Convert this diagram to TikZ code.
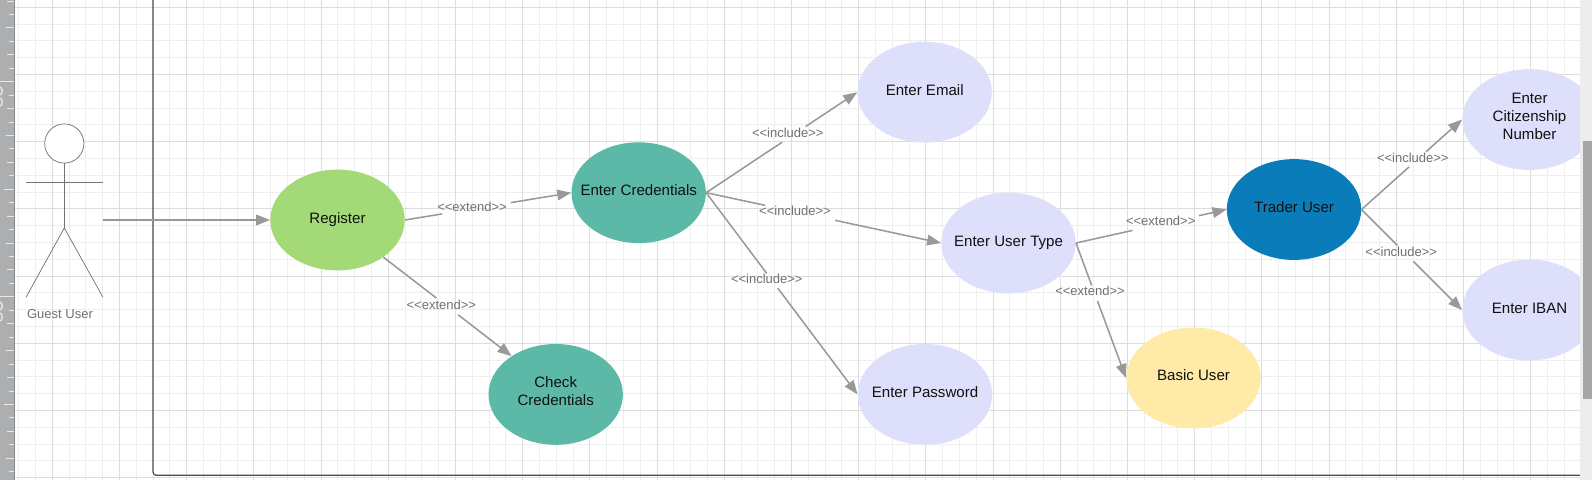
\documentclass[tikz,border=0pt]{standalone}
\usepackage{fontspec}
\setmainfont{Liberation Sans}
\usetikzlibrary{shapes.geometric,arrows.meta,calc}
\definecolor{gridminor}{HTML}{EEEEEE}
\definecolor{gridmajor}{HTML}{DDDDDD}
\definecolor{rulerbg}{HTML}{ADAEB0}
\definecolor{rulerline}{HTML}{87888A}
\definecolor{rulertick}{HTML}{E9E9E9}
\definecolor{conn}{HTML}{999999}
\definecolor{lav}{HTML}{DEDFFB}
\definecolor{teal}{HTML}{5CB9A8}
\definecolor{lime}{HTML}{A3D977}
\definecolor{butter}{HTML}{FFEAA7}
\definecolor{ocean}{HTML}{0B7CBA}
\definecolor{labelgray}{HTML}{707070}
\definecolor{textdark}{HTML}{111111}
\newcommand{\ucase}[2][3.5pt]{\makebox[0pt]{\raisebox{#1}{#2}}}
\newcommand{\ucasetwo}[1]{\makebox[0pt]{\raisebox{-1.3pt}[0pt][0pt]{\begin{tabular}{@{}c@{}}#1\end{tabular}}}}
\tikzset{
  usecase/.style={ellipse,minimum width=100.8pt,minimum height=75.6pt,inner sep=0pt,draw=none,
    font=\fontsize{11.3}{13.5}\selectfont,text=textdark},
  link/.style={draw=conn,line width=1.15pt},
  linkend/.style={link,-{Triangle[length=10.5pt,width=8pt]}},
  tag/.style={font=\fontsize{9.75}{11}\selectfont,text=labelgray,inner sep=0pt},
  stick/.style={draw=black!55,line width=0.55pt},
}
\begin{document}
\begin{tikzpicture}[x=0.75pt,y=-0.75pt]
\useasboundingbox (0,0) rectangle (1592,480);
\fill[white] (0,0) rectangle (1592,480);
% grid
\begin{scope}
\clip (15,0) rectangle (1580,480);
\foreach \k in {0,...,93}{\pgfmathsetmacro\gx{floor(18.7+16.8*\k)+0.5}\draw[gridminor,line width=0.9pt] (\gx,0) -- (\gx,480);}
\foreach \k in {0,...,29}{\pgfmathsetmacro\gy{floor(-9.5+16.8*\k)+0.5}\draw[gridminor,line width=0.9pt] (0,\gy) -- (1592,\gy);}
\foreach \k in {0,...,22}{\pgfmathsetmacro\gx{floor(52.3+67.2*\k)+0.5}\draw[gridmajor,line width=0.9pt] (\gx,0) -- (\gx,480);}
\foreach \k in {0,...,7}{\pgfmathsetmacro\gy{floor(7.3+67.2*\k)+0.5}\draw[gridmajor,line width=0.9pt] (0,\gy) -- (1592,\gy);}
\end{scope}
% ruler
\fill[rulerbg] (0,0) rectangle (14.3,480);
\fill[rulerline] (14.3,0) rectangle (15.3,480);
\foreach \k in {-6,...,29}{
  \pgfmathsetmacro\ty{floor(81.7+13.45*\k)+0.5}
  \pgfmathtruncatemacro\m{mod(\k+16,16)}
  \pgfmathtruncatemacro\n{mod(\k+16,8)}
  \pgfmathtruncatemacro\q{mod(\k+16,4)}
  \pgfmathtruncatemacro\o{mod(\k+16,2)}
  \pgfmathsetmacro\tx{\m==0?0:(\n==0?4:(\q==0?5.7:(\o==0?7.3:9)))}
  \draw[rulertick,line width=0.85pt] (\tx,\ty) -- (14,\ty);
}
\foreach \dy in {87,302}{
  \draw[rulertick,line width=1pt] (0,\dy) .. controls (3,\dy+1) and (3,\dy+7) .. (0,\dy+8);
  \draw[rulertick,line width=1pt] (0,\dy+11) .. controls (3,\dy+11) and (3,\dy+19) .. (0,\dy+19);
}
% system boundary
\draw[draw=black!70,line width=0.9pt,rounded corners=2.5pt] (153,0) -- (153,475.3) -- (1580,475.3);
% use cases
\node[usecase,fill=lime]   (reg) at (337.5,220)   {\ucase[3pt]{Register}};
\node[usecase,fill=teal]   (ec)  at (638.7,192.7) {\ucase[3.7pt]{Enter Credentials}};
\node[usecase,fill=teal]   (chk) at (555.7,394.4) {\ucasetwo{Check\\Credentials}};
\node[usecase,fill=lav]    (em)  at (924.7,92.2)  {\ucase[3.4pt]{Enter Email}};
\node[usecase,fill=lav]    (ut)  at (1008.5,243)  {\ucase[2.4pt]{Enter User Type}};
\node[usecase,fill=lav]    (pw)  at (925,394.4)   {\ucase[3pt]{Enter Password}};
\node[usecase,fill=butter] (bu)  at (1193.5,378)  {\ucase[3.8pt]{Basic User}};
\node[usecase,fill=ocean]  (tr)  at (1294,209.5)  {\ucase[3.5pt]{Trader User}};
\node[usecase,fill=lav]    (cz)  at (1529.5,119.5){\ucasetwo{Enter\\Citizenship\\Number}};
\node[usecase,fill=lav]    (ib)  at (1529.5,310)  {\ucase[2pt]{Enter IBAN}};
% actor
\node[circle,draw=black!55,line width=0.55pt,fill=white,minimum size=29.4pt,inner sep=0pt] (head) at (64.3,143.5) {};
\coordinate (hip) at (64.3,228);
\coordinate (handl) at (26,182.3);
\coordinate (handr) at (103,182.3);
\coordinate (footl) at (26,297.3);
\coordinate (footr) at (103,297.3);
\coordinate (grip) at (103,220);
\draw[stick] (head.south) -- (hip);
\draw[stick] (handl) -- (handr);
\draw[stick] (footl) -- (hip) -- (footr);
\node[font=\fontsize{9.75}{11}\selectfont,text=labelgray,inner sep=0pt] (guest) at (60,314) {Guest User};
% connectors
\draw[linkend] (grip) -- (reg.west);
\newcommand{\gapped}[4]{%
  \draw[link] (#1) -- ($(#1)!#3!(#2)$);
  \draw[linkend] ($(#1)!#4!(#2)$) -- (#2);
}
\coordinate (regse) at (reg.-39.6);
\coordinate (chknw) at (chk.139.5);
\gapped{reg.east}{ec.west}{0.224}{0.637}
\gapped{regse}{chknw}{0.414}{0.584}
\gapped{ec.east}{em.west}{0.503}{0.658}
\gapped{ec.east}{ut.west}{0.252}{0.549}
\gapped{ec.east}{pw.west}{0.400}{0.473}
\gapped{ut.east}{tr.west}{0.375}{0.817}
\gapped{ut.east}{bu.west}{0.314}{0.430}
\gapped{tr.east}{cz.west}{0.474}{0.642}
\gapped{tr.east}{ib.west}{0.358}{0.516}
% connector labels
\node[tag] (t1) at (472,207.3)    {<{}<extend>{}>};
\node[tag] (t2) at (441.3,305.3)  {<{}<extend>{}>};
\node[tag] (t3) at (787.8,133.3)  {<{}<include>{}>};
\node[tag] (t4) at (795,211)      {<{}<include>{}>};
\node[tag] (t5) at (766.8,279)    {<{}<include>{}>};
\node[tag] (t6) at (1160.7,221)   {<{}<extend>{}>};
\node[tag] (t7) at (1090,291)     {<{}<extend>{}>};
\node[tag] (t8) at (1412.8,158)   {<{}<include>{}>};
\node[tag] (t9) at (1401.2,252)   {<{}<include>{}>};
% right strip and scrollbar
\fill[black!7] (1580,0) rectangle (1592,480);
\fill[black!35] (1583,141) rectangle (1592,399);
\end{tikzpicture}
\end{document}
